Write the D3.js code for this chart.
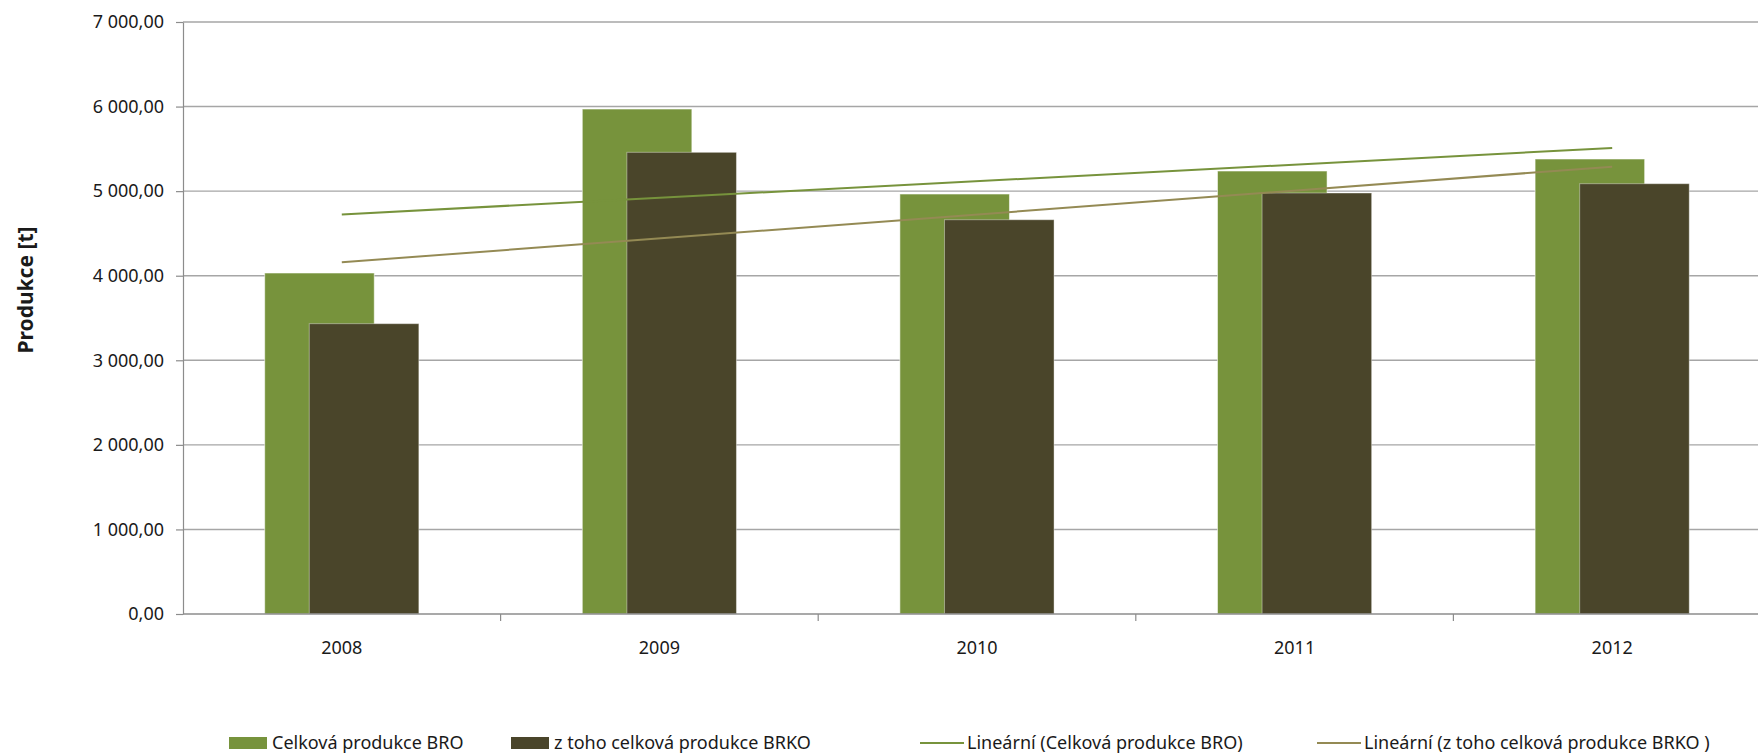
<!DOCTYPE html>
<html>
<head>
<meta charset="utf-8">
<script src="https://cdn.jsdelivr.net/npm/d3@7"></script>
<style>
  body { margin: 0; background: #fff; }
  text { font-family: "Noto Sans", "DejaVu Sans", sans-serif; fill: #1a1a1a; }
</style>
</head>
<body>
<div id="chart"></div>
<script>
// values
const years = ['2008', '2009', '2010', '2011', '2012'];
const broTotal = [4032, 5971, 4966, 5238, 5380];   // Celková produkce BRO
const brkoTotal = [3433, 5459, 4662, 4978, 5088];  // z toho celková produkce BRKO
const yTicks = [0, 1000, 2000, 3000, 4000, 5000, 6000, 7000];
const seriesNames = ['Celková produkce BRO', 'z toho celková produkce BRKO'];
const trendNames = ['Lineární (Celková produkce BRO)', 'Lineární (z toho celková produkce BRKO )'];

const svgW = 1758, svgH = 755;
const plot = { left: 183, right: 1771, top: 22, bottom: 614 };
const green = '#77933C', dark = '#4A452A', tan = '#948A54';

const chart = d3.select('#chart').append('svg')
  .attr('width', svgW)
  .attr('height', svgH);

const x = d3.scaleBand().domain(years).range([plot.left, plot.right]);
const y = d3.scaleLinear().domain([0, 7000]).range([plot.bottom, plot.top]);

// czech number format: space for thousands, comma for decimals
const cz = d3.formatLocale({ decimal: ',', thousands: ' ', grouping: [3], currency: ['', ''] });
const fmt = cz.format(',.2f');

// gridlines
chart.append('g').selectAll('line')
  .data(yTicks.slice(1))
  .join('line')
  .attr('x1', plot.left).attr('x2', plot.right)
  .attr('y1', d => y(d)).attr('y2', d => y(d))
  .attr('stroke', '#a6a6a6').attr('stroke-width', 1.4);

// y axis
const yAxis = chart.append('g')
  .attr('transform', `translate(${plot.left},0)`)
  .call(d3.axisLeft(y).tickValues(yTicks).tickFormat(fmt).tickSize(7).tickSizeOuter(0).tickPadding(12));
yAxis.select('.domain').attr('stroke', '#8c8c8c').attr('stroke-width', 1.2);
yAxis.selectAll('.tick line').attr('stroke', '#8c8c8c').attr('stroke-width', 1.2);
yAxis.selectAll('.tick text').style('font-size', '18px').attr('fill', '#1a1a1a');

// bars
const bw = x.bandwidth();
const barW = bw * 0.345;
const rows = years.map((yr, i) => ({ yr, bro: broTotal[i], brko: brkoTotal[i] }));

chart.append('g').selectAll('g')
  .data(rows)
  .join('g')
  .each(function (d) {
    const g = d3.select(this);
    g.append('rect')
      .attr('x', x(d.yr) + bw * 0.2572)
      .attr('y', y(d.bro))
      .attr('width', barW)
      .attr('height', y(0) - y(d.bro))
      .attr('fill', green)
      .attr('stroke', 'rgba(255,255,255,0.55)').attr('stroke-width', 1);
    g.append('rect')
      .attr('x', x(d.yr) + bw * 0.3976)
      .attr('y', y(d.brko))
      .attr('width', barW)
      .attr('height', y(0) - y(d.brko))
      .attr('fill', dark)
      .attr('stroke', 'rgba(255,255,255,0.4)').attr('stroke-width', 1);
  });

// x axis
const xAxis = chart.append('g')
  .attr('transform', `translate(0,${plot.bottom})`);
xAxis.append('line')
  .attr('x1', plot.left).attr('x2', plot.right)
  .attr('stroke', '#8c8c8c').attr('stroke-width', 1.4);
xAxis.selectAll('line.tk')
  .data(years.slice(1))
  .join('line').attr('class', 'tk')
  .attr('x1', d => x(d)).attr('x2', d => x(d))
  .attr('y1', 0).attr('y2', 7)
  .attr('stroke', '#8c8c8c').attr('stroke-width', 1.2);
xAxis.selectAll('text')
  .data(years)
  .join('text')
  .attr('x', d => x(d) + bw / 2)
  .attr('y', 40)
  .attr('text-anchor', 'middle')
  .style('font-size', '18px')
  .text(d => d);

// linear trend lines (least squares over the series)
function trend(vals) {
  const n = vals.length;
  const mx = (n - 1) / 2, my = d3.mean(vals);
  let num = 0, den = 0;
  vals.forEach((v, i) => { num += (i - mx) * (v - my); den += (i - mx) * (i - mx); });
  const b = num / den;
  return [[0, my - b * mx], [n - 1, my + b * (n - 1 - mx)]];
}
const line = d3.line()
  .x(d => x(years[d[0]]) + bw / 2)
  .y(d => y(d[1]));
chart.append('path')
  .attr('d', line(trend(broTotal)))
  .attr('fill', 'none').attr('stroke', green).attr('stroke-width', 2);
chart.append('path')
  .attr('d', line(trend(brkoTotal)))
  .attr('fill', 'none').attr('stroke', tan).attr('stroke-width', 2);

// y axis title
chart.append('text')
  .attr('transform', 'translate(26,290) rotate(-90)')
  .attr('text-anchor', 'middle')
  .attr('dy', '0.35em')
  .style('font-size', '21px')
  .style('font-weight', 'bold')
  .text('Produkce [t]');

// legend
const legY = 743;
const legend = chart.append('g');
const items = [
  { type: 'rect', color: green, x: 229, label: seriesNames[0] },
  { type: 'rect', color: dark, x: 511, label: seriesNames[1] },
  { type: 'line', color: green, x: 920, label: trendNames[0] },
  { type: 'line', color: tan, x: 1317, label: trendNames[1] }
];
items.forEach(it => {
  if (it.type === 'rect') {
    legend.append('rect')
      .attr('x', it.x).attr('y', legY - 6)
      .attr('width', 38).attr('height', 12)
      .attr('fill', it.color);
  } else {
    legend.append('line')
      .attr('x1', it.x).attr('x2', it.x + 44)
      .attr('y1', legY).attr('y2', legY)
      .attr('stroke', it.color).attr('stroke-width', 2);
  }
  legend.append('text')
    .attr('x', it.x + (it.type === 'rect' ? 43 : 47))
    .attr('y', legY)
    .attr('dy', '0.35em')
    .style('font-size', '18px')
    .text(it.label);
});
</script>
</body>
</html>
